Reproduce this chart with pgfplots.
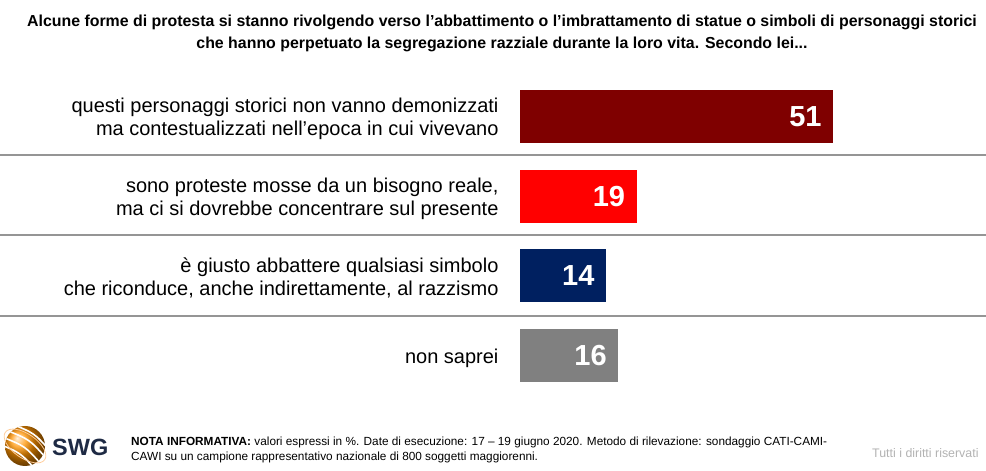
\documentclass[border=0pt]{standalone}
\usepackage{pgfplots}
\pgfplotsset{compat=1.18}
\usepackage{fontspec}
\setmainfont{Liberation Sans}
\definecolor{c1}{HTML}{7F0000}
\definecolor{c2}{HTML}{FF0000}
\definecolor{c3}{HTML}{002060}
\definecolor{c4}{HTML}{808080}
\definecolor{sep}{HTML}{959595}
\definecolor{swg}{HTML}{1E2A44}
\begin{document}
\begin{tikzpicture}[x=1pt,y=1pt]
\path[use as bounding box] (0,0) rectangle (986,471);
% title
\node[align=center,font=\bfseries\fontsize{15.9}{22}\selectfont] at (502,438) {Alcune forme di protesta si stanno rivolgendo verso l'abbattimento o l'imbrattamento di statue o simboli di personaggi storici\\che hanno perpetuato la segregazione razziale durante la loro vita. Secondo lei...};
% separators
\foreach \yy in {316,236,155} {\draw[sep,line width=1.3pt] (0,\yy) -- (986,\yy);}
\begin{axis}[at={(520pt,75.7pt)},anchor=south west,scale only axis,
  width=368.4pt,height=318.7pt,xmin=0,xmax=60,ymin=-0.5,ymax=3.5,
  y dir=reverse, axis line style={draw=none}, major tick length=0pt,
  xtick=\empty, ytick={0,1,2,3},
  yticklabels={{questi personaggi storici non vanno demonizzati\\ma contestualizzati nell'epoca in cui vivevano},
    {sono proteste mosse da un bisogno reale,\\ma ci si dovrebbe concentrare sul presente},
    {è giusto abbattere qualsiasi simbolo\\che riconduce, anche indirettamente, al razzismo},
    {non saprei}},
  yticklabel style={align=right,font=\fontsize{20}{23}\selectfont,xshift=-18pt,yshift=-2.5pt},
  xbar, bar width=53pt, bar shift=0pt,
  /pgf/number format/assume math mode=true,
  nodes near coords,
  nodes near coords style={anchor=east,xshift=-8pt,text=white,font=\bfseries\fontsize{29}{29}\selectfont},
  clip=false]
\addplot[draw=none,fill=c1] coordinates {(51,0)};
\addplot[draw=none,fill=c2] coordinates {(19,1)};
\addplot[draw=none,fill=c3] coordinates {(14,2)};
\addplot[draw=none,fill=c4] coordinates {(16,3)};
\end{axis}
% footer
\shade[ball color=orange!85!yellow] (25,25) circle (20);
\begin{scope}
\clip (25,25) circle (20);
\foreach \o in {-14,-6,2,10} {\draw[white,line width=1.6pt,rotate around={-35:(25,25)}] (0,25+\o) .. controls (25,31+\o) .. (50,25+\o);}
\end{scope}
\draw[orange!40,line width=0.8pt,rotate around={-35:(25,25)}] (25,25) ellipse (24 and 12);
\node[anchor=west,font=\bfseries\fontsize{23.5}{23.5}\selectfont,text=swg,inner sep=0] at (52,24) {SWG};
\node[anchor=west,align=left,inner sep=0,font=\fontsize{11.8}{15}\selectfont] at (131,21.5) {\textbf{NOTA INFORMATIVA:} valori espressi in \%. Date di esecuzione: 17 -- 19 giugno 2020. Metodo di rilevazione: sondaggio CATI-CAMI-\\CAWI su un campione rappresentativo nazionale di 800 soggetti maggiorenni.};
\node[anchor=west,inner sep=0,text=black!30,font=\fontsize{12.4}{12.4}\selectfont] at (872,18.3) {Tutti i diritti riservati};
\end{tikzpicture}
\end{document}
